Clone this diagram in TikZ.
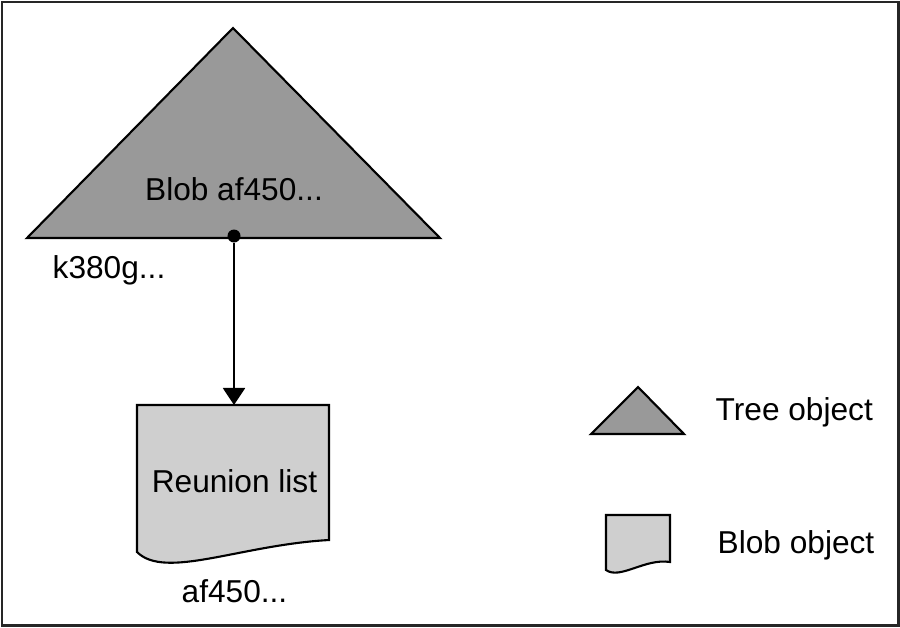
\documentclass[tikz,border=0pt]{standalone}
\usepackage{fontspec}
\setmainfont{Liberation Sans}
\usetikzlibrary{arrows.meta}

\definecolor{treefill}{HTML}{999999}
\definecolor{blobfill}{HTML}{CFCFCF}

\begin{document}
\begin{tikzpicture}[
    x=0.01cm, y=-0.01cm,
    frame/.style={draw=black!85,line width=0.85pt},
    tree/.style={draw=black,fill=treefill,line width=0.6pt,line join=miter},
    blob/.style={draw=black,fill=blobfill,line width=0.6pt},
    dot/.style={circle,draw=none,fill=black,inner sep=0pt,minimum size=0.13cm},
    label/.style={font=\fontsize{9}{11}\selectfont,inner sep=0pt},
    line/.style={black,line width=0.55pt,-{Triangle[length=1.7mm,width=2.2mm]}}
]
    % Outer frame
    \useasboundingbox (0,0) rectangle (900,627);
    \draw[frame] (2,2) rectangle (898,625);

    % Tree object with its blob entry
    \draw[tree] (233,28) -- (440,238) -- (27,238) -- cycle;
    \node[label,anchor=base] (treename) at (234,200) {Blob af450...};
    \node[label,anchor=base west] (treehash) at (52,278) {k380g...};
    \node[dot] (entry) at (234,236) {};

    %%%%%%%%%%%%%%%%%%%%%%%%%%%%%%%%%%%%%%%%%%%%%%%%%%%%%%%%%%%%%%%%%%%%%%%%%%%%%%%%%%%%

    % Blob object
    \draw[blob] (137,405) -- (329,405) -- (329,540)
        .. controls (240,545) and (165,580) .. (137,552) -- cycle;
    \coordinate (blobtop) at (234,405);
    \node[label,anchor=base] (blobname) at (234.5,492) {Reunion list};
    \node[label,anchor=base] (blobhash) at (234.5,602) {af450...};

    \draw[line] (entry) -- (blobtop);

    %%%%%%%%%%%%%%%%%%%%%%%%%%%%%%%%%%%%%%%%%%%%%%%%%%%%%%%%%%%%%%%%%%%%%%%%%%%%%%%%%%%%

    % Legend
    \draw[tree] (638,387) -- (684,434) -- (591,434) -- cycle;
    \node[label,anchor=base west] (treekey) at (715,420) {Tree object};

    \draw[blob] (606,515) -- (670,515) -- (670,562)
        .. controls (645,558) and (620,580) .. (606,570) -- cycle;
    \node[label,anchor=base west] (blobkey) at (717,553) {Blob object};
\end{tikzpicture}
\end{document}
